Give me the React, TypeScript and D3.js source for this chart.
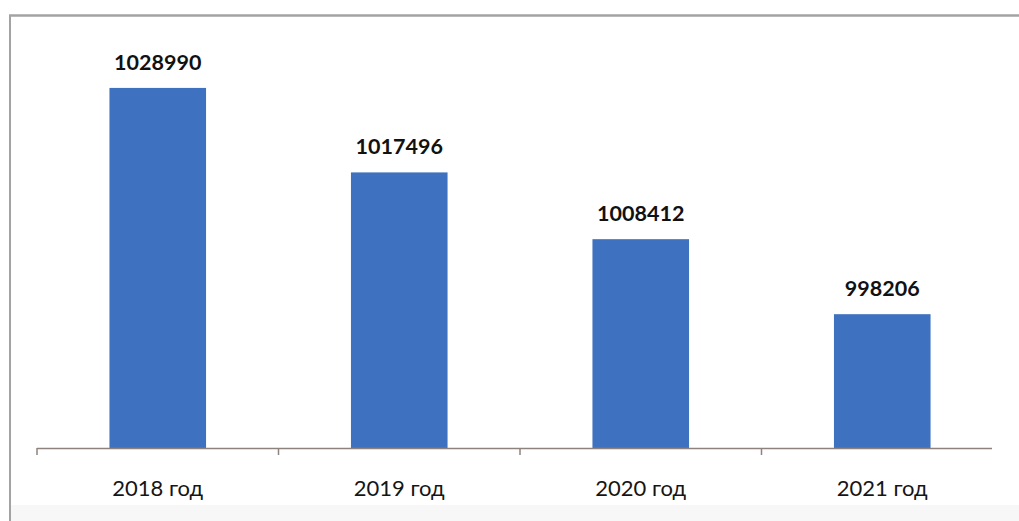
import React from "react";
import * as d3 from "d3";

const categories: string[] = ["2018 год", "2019 год", "2020 год", "2021 год"];
const values: number[] = [1028990, 1017496, 1008412, 998206];
const yDomain: [number, number] = [980000, 1040000];

const W = 1019;
const H = 521;
const plotLeft = 37;
const plotRight = 1003;
const baseY = 448;
const topY = 7;

export default function App() {
  const x = d3
    .scaleBand<string>()
    .domain(categories)
    .range([plotLeft, plotRight])
    .paddingInner(0.6)
    .paddingOuter(0.3);
  const y = d3.scaleLinear().domain(yDomain).range([baseY, topY]);
  const step = x.step();
  const tickXs = d3.range(categories.length).map((i) => plotLeft + i * step);
  const font = "Lato, 'Open Sans', sans-serif";

  return (
    <div style={{ position: "absolute", left: 0, top: 0 }}>
      <svg width={W} height={H} style={{ display: "block", background: "#ffffff" }}>
        <rect x={10} y={505} width={W - 10} height={H - 505} fill="#f7f7f7" />
        <line x1={9} x2={W} y1={15.5} y2={15.5} stroke="#a3a3a3" strokeWidth={2.5} />
        <line x1={10} x2={10} y1={15} y2={H} stroke="#a3a3a3" strokeWidth={2} />
        {categories.map((c, i) => (
          <rect
            key={c}
            x={x(c)}
            y={y(values[i])}
            width={x.bandwidth()}
            height={baseY - y(values[i])}
            fill="#3e72c0"
          />
        ))}
        <line x1={plotLeft} x2={992} y1={baseY + 0.5} y2={baseY + 0.5} stroke="#8e837c" strokeWidth={1.5} />
        {tickXs.map((tx, i) => (
          <line key={i} x1={tx} x2={tx} y1={baseY} y2={baseY + 7} stroke="#8e837c" strokeWidth={1.5} />
        ))}
        {categories.map((c, i) => (
          <text
            key={"v" + c}
            x={(x(c) as number) + x.bandwidth() / 2}
            y={y(values[i]) - 18}
            textAnchor="middle"
            fontFamily={font}
            fontWeight="bold"
            fontSize={21.5}
            fill="#111111"
          >
            {values[i]}
          </text>
        ))}
        {categories.map((c) => (
          <text
            key={"c" + c}
            x={(x(c) as number) + x.bandwidth() / 2}
            y={496}
            textAnchor="middle"
            fontFamily={font}
            fontSize={22}
            fill="#151515"
          >
            {c}
          </text>
        ))}
      </svg>
    </div>
  );
}
